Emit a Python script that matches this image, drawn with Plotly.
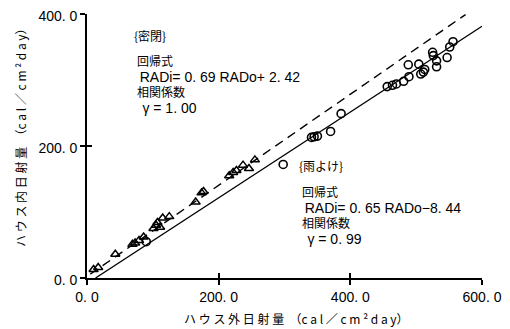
import plotly.graph_objects as go

# ---- data ----
# 密閉 (sealed house) : triangles
sealed_x = [10, 17, 43, 69, 73, 79, 86, 101, 105, 107, 111, 115, 125, 165, 174, 177,
            216, 222, 227, 237, 246, 255]
sealed_y = [13, 16, 36, 51, 53, 57, 62, 75, 80, 84, 77, 91, 93, 115, 129, 131,
            155, 160, 163, 171, 166, 179]
# 雨よけ (rain shelter) : circles
shelter_x = [90, 298, 341, 345, 350, 370, 386, 456, 464, 470, 481, 489, 488, 504, 507,
             511, 513, 525, 526, 531, 531, 547, 551, 556]
shelter_y = [55, 172, 213, 214, 215, 222, 249, 290, 292, 294, 298, 305, 323, 324, 309,
             312, 316, 342, 337, 329, 320, 334, 350, 358]

# regression lines (from the printed equations)
sealed_coef = [0.69, 2.42]
sealed_span = [5, 575]
shelter_coef = [0.65, -8.44]
shelter_span = [13, 600]

x_tickvals = [0, 200, 400, 600]
x_ticktext = ["0. 0", "200. 0", "400. 0", "600. 0"]
y_tickvals = [0, 200, 400]
y_ticktext = ["0. 0", "200. 0", "400. 0"]

x_title = "ハ ウ ス 外 日 射 量  （c a l ／ c m ² d a y）"
y_title = "ハ ウ ス 内 日 射 量  （c a l ／ c m ² d a y）"

sealed_label = ["{密閉}", "回帰式", "RADi= 0. 69 RADo+ 2. 42", "相関係数", "γ = 1. 00"]
shelter_label = ["{雨よけ}", "回帰式", "RADi= 0. 65 RADo−8. 44", "相関係数", "γ = 0. 99"]

CJK = "Noto Sans CJK JP"
LAT = "Liberation Sans"

fig = go.Figure()

fig.add_trace(go.Scatter(
    x=sealed_span, y=[sealed_coef[0] * v + sealed_coef[1] for v in sealed_span],
    mode="lines", line=dict(color="black", width=1.4, dash="9px,6px"), showlegend=False))
fig.add_trace(go.Scatter(
    x=shelter_span, y=[shelter_coef[0] * v + shelter_coef[1] for v in shelter_span],
    mode="lines", line=dict(color="black", width=1.3), showlegend=False))
fig.add_trace(go.Scatter(
    x=sealed_x, y=sealed_y, mode="markers",
    marker=dict(symbol="triangle-up-open", size=8, color="black", line=dict(width=1.5)),
    showlegend=False))
fig.add_trace(go.Scatter(
    x=shelter_x, y=shelter_y, mode="markers",
    marker=dict(symbol="circle-open", size=8, color="black", line=dict(width=1.6)),
    showlegend=False))
# dummy trace for overlay axes (inside ticks)
fig.add_trace(go.Scatter(x=[None], y=[None], xaxis="x2", yaxis="y2", showlegend=False))

axis_common = dict(showgrid=False, zeroline=False, color="black", automargin=False)
# the page body adds an 8px offset, so the figure is 8px smaller than the window
fig.update_layout(
    width=502, height=321,
    margin=dict(l=79, r=28, t=6, b=51),
    paper_bgcolor="white", plot_bgcolor="white",
    font=dict(family=LAT, size=14, color="black"),
    xaxis=dict(range=[0, 600], tickvals=x_tickvals, ticktext=x_ticktext,
               showline=True, linecolor="black", linewidth=1.6,
               ticks="outside", ticklen=5, tickwidth=1.6, tickcolor="black",
               ticklabeloverflow="allow",
               tickfont=dict(family=LAT, size=14), **axis_common),
    yaxis=dict(range=[0, 400], tickvals=y_tickvals, ticktext=y_ticktext,
               showline=True, linecolor="black", linewidth=1.6,
               ticks="outside", ticklen=5, tickwidth=1.6, tickcolor="black",
               ticklabeloverflow="allow", ticklabelshift=2,
               tickfont=dict(family=LAT, size=14), **axis_common),
    xaxis2=dict(range=[0, 600], overlaying="x", anchor="y2", tickvals=x_tickvals,
                showticklabels=False, showline=False, ticks="inside", ticklen=5,
                tickwidth=1.6, tickcolor="black", **axis_common),
    yaxis2=dict(range=[0, 400], overlaying="y", anchor="x2", tickvals=y_tickvals,
                showticklabels=False, showline=False, ticks="inside", ticklen=5,
                tickwidth=1.6, tickcolor="black", **axis_common),
)


def block(x0, y0, y1, lines):
    # header line
    fig.add_annotation(x=x0, y=y0, xref="x", yref="y", text=lines[0], showarrow=False,
                       xanchor="left", yanchor="middle",
                       font=dict(family=CJK, size=12, color="black"))
    body = "<br>".join([
        lines[1],
        '&nbsp;<span style="font-family:Liberation Sans;font-size:14px">' + lines[2] + "</span>",
        lines[3],
        '&nbsp;&nbsp;<span style="font-family:Liberation Sans;font-size:14px">' + lines[4] + "</span>",
    ])
    fig.add_annotation(x=x0 + 5, y=y1, xref="x", yref="y", text=body, showarrow=False,
                       xanchor="left", yanchor="top", align="left",
                       font=dict(family=CJK, size=12, color="black"))


block(68, 368, 345, sealed_label)
block(319, 171, 147, shelter_label)

# axis titles (paper coords; plot area is 395 x 264 px)
fig.add_annotation(x=0.53, y=-0.152, xref="paper", yref="paper", text=x_title,
                   showarrow=False, xanchor="center", yanchor="middle",
                   font=dict(family=CJK, size=12, color="black"))
fig.add_annotation(x=-0.17, y=0.545, xref="paper", yref="paper", text=y_title,
                   showarrow=False, textangle=-90, xanchor="center", yanchor="middle",
                   font=dict(family=CJK, size=12, color="black"))

fig.write_html("out.html")
